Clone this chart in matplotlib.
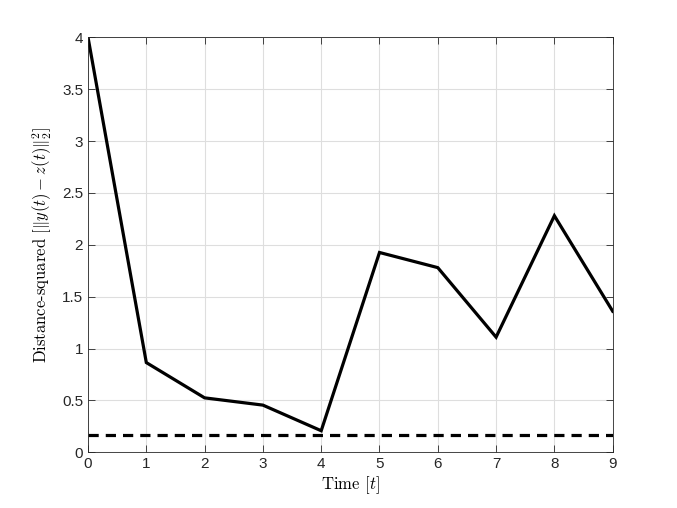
import matplotlib
matplotlib.use("Agg")
import matplotlib.pyplot as plt
import numpy as np

t = [0, 1, 2, 3, 4, 5, 6, 7, 8, 9]
dist_sq = [4.0, 0.865, 0.525, 0.455, 0.208, 1.926, 1.78, 1.11, 2.28, 1.36]
threshold = 0.166
xticks = list(range(10))
yticks = [0, 0.5, 1, 1.5, 2, 2.5, 3, 3.5, 4]
ytick_labels = ["0", "0.5", "1", "1.5", "2", "2.5", "3", "3.5", "4"]

plt.rcParams['mathtext.fontset'] = 'cm'
plt.rcParams['font.family'] = ['Liberation Sans', 'DejaVu Sans']

fig = plt.figure(figsize=(6.77, 5.08), dpi=100)
ax = fig.add_axes([0.13, 0.1096, 0.775, 0.817])

ax.plot(t, dist_sq, color='black', linewidth=2.3, solid_joinstyle='miter')
ax.axhline(threshold, color='black', linestyle=(0, (3.2, 2.2)), linewidth=2.3)

ax.set_xlim(0, 9)
ax.set_ylim(0, 4)
ax.set_xticks(xticks)
ax.set_yticks(yticks)
ax.set_yticklabels(ytick_labels)
ax.grid(True, color='#dedede', linewidth=0.8)
ax.set_axisbelow(True)
ax.tick_params(direction='in', length=5, width=0.6, labelsize=11, colors='#262626',
               top=True, right=True)
for s in ax.spines.values():
    s.set_linewidth(0.6)
    s.set_color('#262626')

ax.set_xlabel(r"Time $[t]$", fontsize=12, family='cmr10', labelpad=2)
ax.set_ylabel(r"Distance-squared $[\|y(t)-z(t)\|_2^2]$", fontsize=12, family='cmr10', labelpad=6)

fig.savefig("out.png", dpi=100)
